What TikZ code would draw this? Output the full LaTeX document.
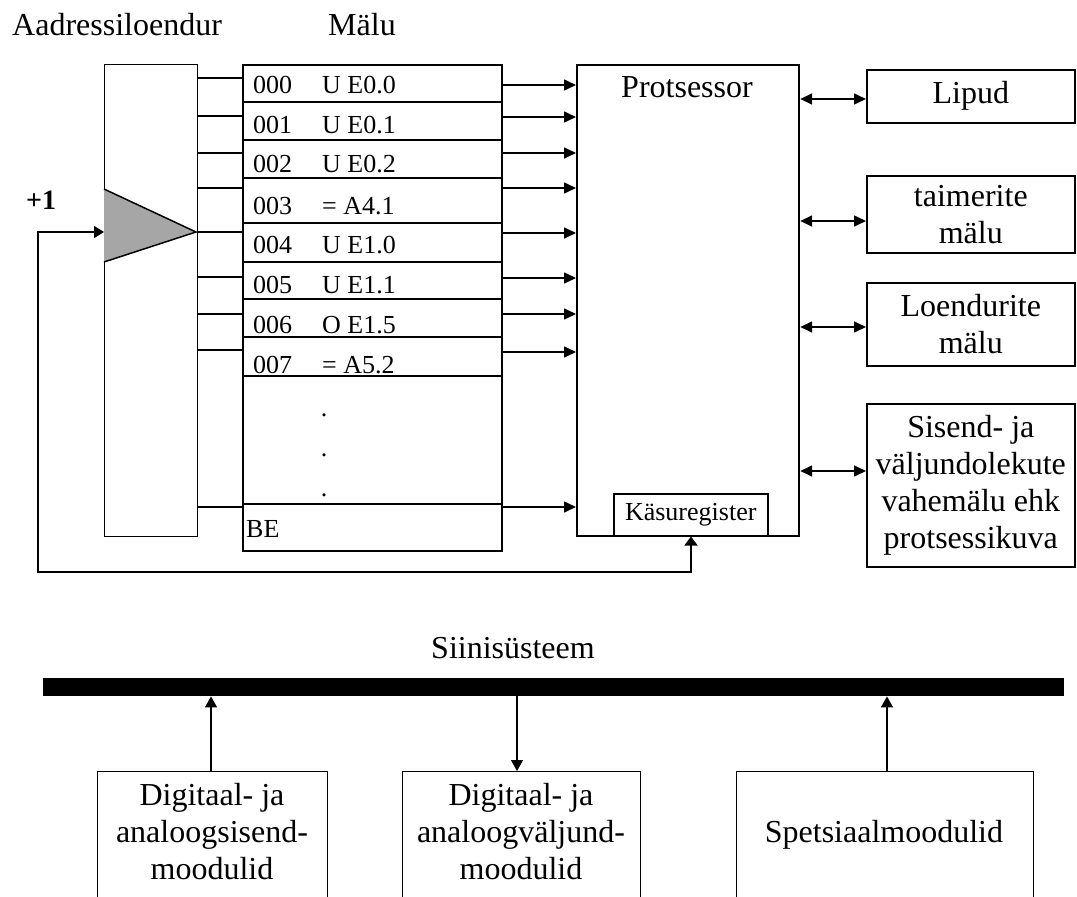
\documentclass[tikz,border=0pt]{standalone}
\usepackage{fontspec}
\setmainfont{Liberation Serif}
\usetikzlibrary{arrows.meta}
\begin{document}
\begin{tikzpicture}[x=1pt,y=-1pt,
  box/.style={draw, inner sep=0pt, anchor=north west},
  big/.style={font=\fontsize{32}{37}\selectfont},
  small/.style={font=\fontsize{26}{30}\selectfont},
  txt/.style={inner sep=0pt},
  arr/.style={line width=1.6pt, -{Triangle[length=12pt,width=11pt]}},
  darr/.style={line width=1.6pt, {Triangle[length=12pt,width=11pt]}-{Triangle[length=12pt,width=11pt]}},
  busarr/.style={line width=1.3pt, -{Triangle[length=11pt,width=12pt]}},
  conn/.style={line width=2pt},
  sep/.style={line width=2.2pt}
]
\useasboundingbox (0,0) rectangle (1077,897);

% titles
\node[txt, big, anchor=base west] (tcnt) at (12,35) {Aadressiloendur};
\node[txt, big, anchor=base west] (tmem) at (328,35) {Mälu};

% address counter
\node[box, line width=1.3pt, minimum width=93pt, minimum height=472pt] (cnt) at (104,64) {};
\coordinate (triin) at (104,232);
\coordinate (triout) at (196,232);
\fill[gray!70] (104,189) -- (triout) -- (104,262) -- cycle;
\draw[line width=1.5pt] (104,189) -- (triout) -- (104,262);
\node[txt, font=\bfseries\fontsize{28}{32}\selectfont, anchor=base west] (plus) at (26,209) {+1};

% memory
\node[box, line width=2.2pt, minimum width=259pt, minimum height=486pt] (mem) at (242,64) {};
\foreach \y in {102,140,178,223,262,299,337,376,504}
  \draw[sep] (mem.west |- 0,\y) -- (mem.east |- 0,\y);
\foreach \y/\a/\b [count=\i] in {93/000/U E0.0, 133/001/U E0.1, 172/002/U E0.2, 214/003/= A4.1,
  253/004/U E1.0, 293/005/U E1.1, 333/006/O E1.5, 373/007/= A5.2} {
  \node[txt, small, anchor=base west] (ma\i) at (253,\y) {\a};
  \node[txt, small, anchor=base west] (mb\i) at (322,\y) {\b};
}
\foreach \y [count=\i] in {416,456,496}
  \node[txt, small, anchor=base] (dot\i) at (324,\y) {.};
\node[txt, small, anchor=base west] (be) at (246,537) {BE};

% counter -> memory lines
\foreach \y in {78,116,153,188,232,277,314,350,507}
  \draw[conn] (cnt.east |- 0,\y) -- (mem.west |- 0,\y);

% processor
\node[box, line width=2.2pt, minimum width=222pt, minimum height=471pt] (cpu) at (576,64) {};
\node[txt, big, anchor=base] (tcpu) at (687,97) {Protsessor};
\node[box, line width=1.5pt, minimum width=154pt, minimum height=42pt, fill=white, small] (kr) at (613,493) {Käsuregister};

% memory -> processor arrows
\foreach \y in {85,117,153,188,233,278,314,352,507}
  \draw[arr] (mem.east |- 0,\y) -- (cpu.west |- 0,\y);

% right boxes
\node[box, line width=1.6pt, big, align=center, minimum width=208pt, minimum height=53pt] (lip) at (866,69) {Lipud};
\node[box, line width=1.6pt, big, align=center, minimum width=208pt, minimum height=77pt] (tai) at (866,175) {taimerite\\mälu};
\node[box, line width=1.6pt, big, align=center, minimum width=208pt, minimum height=83pt] (loe) at (866,282) {Loendurite\\mälu};
\node[box, line width=1.6pt, big, align=center, minimum width=208pt, minimum height=163pt] (sis) at (866,403) {Sisend- ja\\väljundolekute\\vahemälu ehk\\protsessikuva};

\draw[darr] (cpu.east |- 0,99) -- (lip.west |- 0,99);
\draw[darr] (cpu.east |- 0,221) -- (tai.west |- 0,221);
\draw[darr] (cpu.east |- 0,327) -- (loe.west |- 0,327);
\draw[darr] (cpu.east |- 0,471) -- (sis.west |- 0,471);

% feedback
\draw[line width=1.6pt, {Triangle[length=9pt,width=13pt]}-{Triangle[length=10pt,width=12pt]}]
  (kr.south -| 691,0) |- (38,572) |- (triin);

% bus system
\node[txt, big, anchor=base] (tbus) at (513,658) {Siinisüsteem};
\node[fill=black, inner sep=0pt, anchor=north west, minimum width=1021pt, minimum height=18pt] (bus) at (43,678) {};

\node[box, line width=1.3pt, minimum width=230pt, minimum height=160pt] (b1) at (97,771) {};
\node[box, line width=1.3pt, minimum width=238pt, minimum height=160pt] (b2) at (402,771) {};
\node[box, line width=1.3pt, minimum width=297pt, minimum height=160pt] (b3) at (736,771) {};

\node[txt, big, align=center, anchor=north] (tb1) at (212,783) {Digitaal- ja\\analoogsisend-\\moodulid};
\node[txt, big, align=center, anchor=north] (tb2) at (521,783) {Digitaal- ja\\analoogväljund-\\moodulid};
\node[txt, big, anchor=base] (tb3) at (884,842) {Spetsiaalmoodulid};

\draw[busarr] (b1.north -| 211,0) -- (bus.south -| 211,0);
\draw[busarr] (bus.south -| 517,0) -- (b2.north -| 517,0);
\draw[busarr] (b3.north -| 887,0) -- (bus.south -| 887,0);
\end{tikzpicture}
\end{document}
